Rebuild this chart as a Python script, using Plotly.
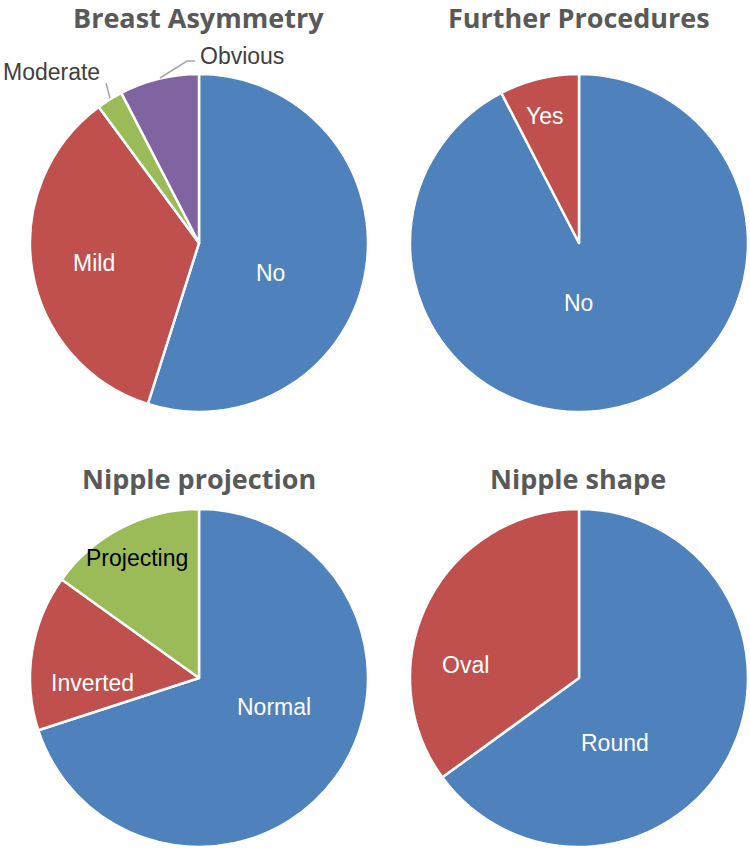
import plotly.graph_objects as go

W, H = 750, 850

asym_labels = ["No", "Mild", "Moderate", "Obvious"]
asym_values = [54.9, 35.0, 2.5, 7.6]

proc_labels = ["No", "Yes"]
proc_values = [92.4, 7.6]

proj_labels = ["Normal", "Inverted", "Projecting"]
proj_values = [70.0, 14.9, 15.1]

shape_labels = ["Round", "Oval"]
shape_values = [65.0, 35.0]

BLUE, RED, GREEN, PURPLE = "#4F81BD", "#C0504D", "#9BBB59", "#8064A2"
LABEL_FONT = "Liberation Sans, Arial"
LABEL_SIZE = 23


def px(x, y):
    return x / W, 1 - y / H


def px_dom(cx, cy, r):
    x0, y1 = px(cx - r, cy - r)
    x1, y0 = px(cx + r, cy + r)
    return dict(x=[x0, x1], y=[y0, y1])


fig = go.Figure()
annotations = []

# label placement (pixel centres) as in the reference, keyed by chart and label
label_pos = {
    "asym": {"No": (270, 273), "Mild": (94, 263)},
    "proc": {"No": (578, 303), "Yes": (545, 116)},
    "proj": {"Normal": (274, 707), "Inverted": (92, 683), "Projecting": (137, 558)},
    "shape": {"Round": (615, 743), "Oval": (466, 665)},
}
label_color = {"Projecting": "black"}


def add_pie(key, labels, values, center, colors):
    fig.add_trace(go.Pie(
        labels=labels, values=values, domain=px_dom(center[0], center[1], 169),
        marker=dict(colors=colors, line=dict(color="white", width=2.5)),
        textinfo="none", sort=False, direction="clockwise", rotation=0,
        hoverinfo="skip"))
    for lab in labels:
        if lab in label_pos[key]:
            ax, ay = px(*label_pos[key][lab])
            annotations.append(dict(text=lab, x=ax, y=ay, xref="paper", yref="paper",
                                    xanchor="center", yanchor="middle", showarrow=False,
                                    font=dict(family=LABEL_FONT, size=LABEL_SIZE,
                                              color=label_color.get(lab, "white"))))


add_pie("asym", asym_labels, asym_values, (199, 243), [BLUE, RED, GREEN, PURPLE])
add_pie("proc", proc_labels, proc_values, (579, 243), [BLUE, RED])
add_pie("proj", proj_labels, proj_values, (199, 678), [BLUE, RED, GREEN])
add_pie("shape", shape_labels, shape_values, (579, 678), [BLUE, RED])

titles = [("Breast Asymmetry", 199, 17), ("Further Procedures", 579, 17),
          ("Nipple projection", 199, 478), ("Nipple shape", 578, 478)]
for t, x, y in titles:
    ax, ay = px(x, y)
    annotations.append(dict(text=f"<b>{t}</b>", x=ax, y=ay, xref="paper", yref="paper",
                            xanchor="center", yanchor="middle", showarrow=False,
                            font=dict(family="Open Sans", size=27, color="#595959")))

# outside labels for the two small slices, with leader lines
for lab, (x, y) in [(asym_labels[2], (51, 72)), (asym_labels[3], (242, 56))]:
    ax, ay = px(x, y)
    annotations.append(dict(text=lab, x=ax, y=ay, xref="paper", yref="paper",
                            xanchor="center", yanchor="middle", showarrow=False,
                            font=dict(family=LABEL_FONT, size=LABEL_SIZE, color="#404040")))


def path(points):
    s = ""
    for i, (x, y) in enumerate(points):
        a, b = px(x, y)
        s += ("M " if i == 0 else " L ") + f"{a} {b}"
    return s


shapes = [
    dict(type="path", path=path([(106, 83), (110, 98)]), xref="paper", yref="paper",
         line=dict(color="#A6A6A6", width=1.5)),
    dict(type="path", path=path([(195, 61), (187, 61), (160, 78)]), xref="paper", yref="paper",
         line=dict(color="#A6A6A6", width=1.5)),
]

fig.update_layout(width=W, height=H, margin=dict(l=0, r=0, t=0, b=0),
                  paper_bgcolor="white", plot_bgcolor="white", showlegend=False,
                  annotations=annotations, shapes=shapes)

fig.write_html("out.html", config={"displayModeBar": False},
               post_script="document.body.style.margin='0';document.body.style.overflow='hidden';")
